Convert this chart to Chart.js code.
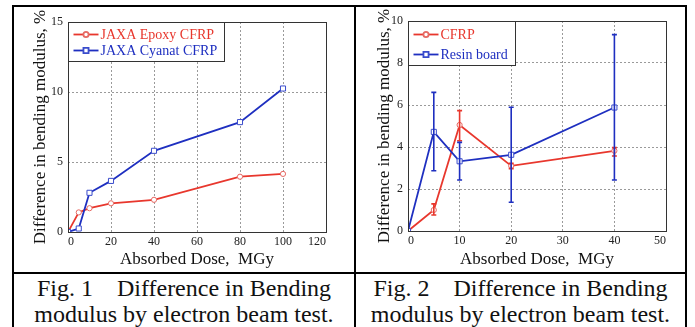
<!DOCTYPE html>
<html>
<head>
<meta charset="utf-8">
<script src="https://cdn.jsdelivr.net/npm/chart.js@4.4.1/dist/chart.umd.min.js"></script>
<style>
  body { margin: 0; background: #fff; width: 695px; height: 327px; overflow: hidden; position: relative;
         font-family: 'Liberation Serif', 'Times New Roman', serif; }
  .rule { position: absolute; background: #000; }
  canvas { position: absolute; }
  .cap { position: absolute; top: 275px; text-align: center; font-size: 24px; line-height: 26px;
         white-space: pre; color: #111; }
</style>
</head>
<body>
<div class="rule" style="left:12px;top:5px;width:675px;height:2px"></div>
<div class="rule" style="left:12px;top:5px;width:2px;height:322px"></div>
<div class="rule" style="left:354px;top:5px;width:2px;height:322px"></div>
<div class="rule" style="left:685px;top:5px;width:2px;height:322px"></div>
<div class="rule" style="left:12px;top:272px;width:675px;height:2px"></div>

<canvas id="fig1" width="340" height="265" style="left:14px;top:7px"></canvas>
<canvas id="fig2" width="329" height="265" style="left:356px;top:7px"></canvas>

<div class="cap" style="left:14px;width:340px">Fig. 1    Difference in Bending<br>modulus by electron beam test.</div>
<div class="cap" style="left:356px;width:329px">Fig. 2    Difference in Bending<br>modulus by electron beam test.</div>

<script>
// Fig. 1 data
const dose1 = [0, 5, 10, 20, 40, 80, 100];
const epoxy = [0, 1.4, 1.7, 2.05, 2.3, 3.95, 4.15];
const cyanat = [0, 0.25, 2.8, 3.65, 5.8, 7.85, 10.25];

// Fig. 2 data (mean, lower and upper end of error bar)
const dose2 = [0, 5, 10, 20, 40];
const cfrp = [0, 1.0, 5.05, 3.1, 3.82];
const cfrpLow = [null, 0.76, 4.3, 2.97, 3.57];
const cfrpHigh = [null, 1.29, 5.73, 3.22, 3.97];
const resin = [0, 4.72, 3.32, 3.63, 5.88];
const resinLow = [null, 2.87, 2.43, 1.37, 2.43];
const resinHigh = [null, 6.6, 4.22, 5.89, 9.35];

const RED = '#e8372d';
const BLUE = '#1e2fc0';
const SERIF = "'Liberation Serif', 'Times New Roman', serif";

Chart.defaults.font.family = SERIF;
Chart.defaults.color = '#222';

const pts = (xs, ys) => xs.map((x, i) => ({ x, y: ys[i] }));

// vertical error bars with small caps, drawn right after their own dataset
const errorBars = {
  id: 'errorBars',
  afterDatasetDraw(chart, args) {
    const ds = chart.data.datasets[args.index];
    if (!ds.errLow) return;
    const { ctx, scales: { x, y } } = chart;
    ctx.save();
    ctx.strokeStyle = ds.borderColor;
    ctx.lineWidth = 1.6;
    ds.data.forEach((p, j) => {
      if (ds.errLow[j] == null) return;
      const px = x.getPixelForValue(p.x);
      const top = y.getPixelForValue(ds.errHigh[j]);
      const bot = y.getPixelForValue(ds.errLow[j]);
      ctx.beginPath();
      ctx.moveTo(px, top); ctx.lineTo(px, bot);
      ctx.moveTo(px - 2.5, top); ctx.lineTo(px + 2.5, top);
      ctx.moveTo(px - 2.5, bot); ctx.lineTo(px + 2.5, bot);
      ctx.stroke();
    });
    ctx.restore();
  }
};

// plot frame + boxed legend in the upper left corner
const frameLegend = {
  id: 'frameLegend',
  afterDraw(chart, args, opts) {
    const { ctx, chartArea: a } = chart;
    ctx.save();
    ctx.strokeStyle = '#333';
    ctx.lineWidth = 1;
    ctx.strokeRect(Math.round(a.left) + 0.5, Math.round(a.top) + 0.5,
                   Math.round(a.right - a.left), Math.round(a.bottom - a.top));

    const x0 = Math.round(a.left) + 0.5, y0 = Math.round(a.top) + 0.5;
    ctx.fillStyle = '#fff';
    ctx.fillRect(x0, y0, opts.width, opts.height);
    ctx.strokeRect(x0, y0, opts.width, opts.height);

    ctx.font = '14px ' + SERIF;
    ctx.textBaseline = 'middle';
    chart.data.datasets.forEach((ds, i) => {
      const yy = y0 + opts.firstRow + i * opts.rowGap;
      ctx.strokeStyle = ds.borderColor;
      ctx.lineWidth = ds.borderWidth;
      ctx.beginPath();
      ctx.moveTo(x0 + 5, yy); ctx.lineTo(x0 + 30, yy);
      ctx.stroke();
      ctx.strokeStyle = ds.pointBorderColor;
      ctx.fillStyle = '#fff';
      Chart.helpers.drawPoint(ctx, { pointStyle: ds.pointStyle, radius: ds.pointRadius, borderWidth: 1, rotation: 0 },
                              x0 + 17.5, yy);
      ctx.fillStyle = ds.borderColor;
      ctx.fillText(ds.label, x0 + 32, yy + 1);
    });
    ctx.restore();
  }
};

function series(label, data, color, style, order, extra) {
  return Object.assign({
    label, data, order,
    borderColor: color,
    borderWidth: 1.8,
    pointStyle: style,
    pointRadius: style === 'rect' ? 3.6 : 2.6,
    pointBorderWidth: 1,
    pointBorderColor: color === RED ? '#e66a64' : '#3a4ccc',
    pointBackgroundColor: '#fff',
    tension: 0
  }, extra || {});
}

function axes(xMax, xStep, yMax, yStep, yWidth, xHeight, yTitlePad) {
  const grid = { color: '#9a9a9a', lineWidth: 1, drawTicks: false };
  return {
    x: {
      type: 'linear', min: 0, max: xMax,
      grid,
      border: { display: false, dash: [2, 2] },
      ticks: { stepSize: xStep, padding: 3, align: 'inner', font: { size: 12 } },
      title: { display: true, text: 'Absorbed Dose,  MGy', color: '#111',
               font: { size: 17 }, padding: { top: 0, bottom: 2 } },
      afterFit: s => { s.height = xHeight; }
    },
    y: {
      type: 'linear', min: 0, max: yMax,
      grid,
      border: { display: false, dash: [2, 2] },
      ticks: { stepSize: yStep, padding: 5, font: { size: 12 } },
      title: { display: true, text: 'Difference in bending modulus, %', color: '#111',
               font: { size: 17 }, padding: { top: yTitlePad, bottom: 0 } },
      afterFit: s => { s.width = yWidth; }
    }
  };
}

new Chart(document.getElementById('fig1'), {
  type: 'line',
  data: {
    datasets: [
      series('JAXA Epoxy CFRP', pts(dose1, epoxy), RED, 'circle', 1),
      series('JAXA Cyanat CFRP', pts(dose1, cyanat), BLUE, 'rect', 0)
    ]
  },
  options: {
    responsive: false, animation: false, devicePixelRatio: 1,
    layout: { padding: { top: 15, right: 28, left: 0, bottom: 0 } },
    scales: axes(120, 20, 15, 5, 54, 40, 16),
    plugins: {
      legend: { display: false }, tooltip: { enabled: false },
      frameLegend: { width: 156, height: 39, firstRow: 12, rowGap: 16 }
    }
  },
  plugins: [errorBars, frameLegend]
});

new Chart(document.getElementById('fig2'), {
  type: 'line',
  data: {
    datasets: [
      series('CFRP', pts(dose2, cfrp), RED, 'circle', 1, { errLow: cfrpLow, errHigh: cfrpHigh }),
      series('Resin board', pts(dose2, resin), BLUE, 'rect', 0, { errLow: resinLow, errHigh: resinHigh })
    ]
  },
  options: {
    responsive: false, animation: false, devicePixelRatio: 1,
    layout: { padding: { top: 14, right: 19, left: 0, bottom: 0 } },
    scales: axes(50, 10, 10, 2, 52, 41, 18),
    plugins: {
      legend: { display: false }, tooltip: { enabled: false },
      frameLegend: { width: 107, height: 44, firstRow: 13, rowGap: 20 }
    }
  },
  plugins: [errorBars, frameLegend]
});
</script>
</body>
</html>
